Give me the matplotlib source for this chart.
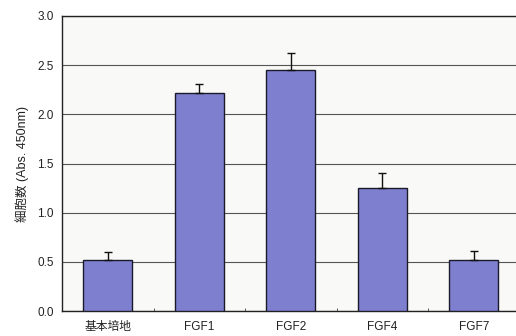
import matplotlib
matplotlib.use("Agg")
import matplotlib.pyplot as plt
from matplotlib.ticker import FixedLocator

plt.rcParams['font.family'] = ['Liberation Sans', 'Noto Sans CJK JP', 'DejaVu Sans']

categories = ["基本培地", "FGF1", "FGF2", "FGF4", "FGF7"]
values = [0.515, 2.22, 2.45, 1.25, 0.515]
errors = [0.085, 0.09, 0.17, 0.155, 0.10]
yticks = [0.0, 0.5, 1.0, 1.5, 2.0, 2.5, 3.0]

fig = plt.figure(figsize=(5.16, 3.36), dpi=100)
ax = fig.add_axes([62 / 516, 25 / 336, 1 - 62 / 516, 295 / 336])
ax.set_facecolor('#f9f9f7')

x = list(range(len(categories)))
ax.bar(x, values, width=0.535, color='#7f7fd0', edgecolor='#1a1a2a',
       linewidth=1.0, zorder=3)
ax.errorbar(x, values, yerr=[[0] * len(errors), errors], fmt='none',
            ecolor='#111111', elinewidth=1.0, capsize=2.8, capthick=1.0, zorder=4)

ax.set_xlim(-0.5, 4.46)
ax.set_ylim(0, 3.0)
ax.set_yticks(yticks)
ax.set_yticklabels([f"{v:.1f}" for v in yticks], fontsize=8.5, color='#222222')
ax.tick_params(axis='y', length=0, pad=6)
ax.yaxis.grid(True, color='#555555', linewidth=0.8, zorder=0)
ax.set_axisbelow(True)

ax.set_xticks(x)
ax.set_xticklabels(categories, fontsize=8.5, color='#222222')
ax.tick_params(axis='x', length=0, pad=7)
ax.xaxis.set_minor_locator(FixedLocator([i + 0.5 for i in range(4)]))
ax.tick_params(axis='x', which='minor', direction='in', length=2, color='#444444')

ax.set_ylabel("細胞数 (Abs. 450nm)", fontsize=9, color='#222222', labelpad=6)

for s in ['left', 'bottom', 'top']:
    ax.spines[s].set_color('#222222')
    ax.spines[s].set_linewidth(1.0)
ax.spines['right'].set_visible(False)

fig.savefig("out.png", dpi=100)
